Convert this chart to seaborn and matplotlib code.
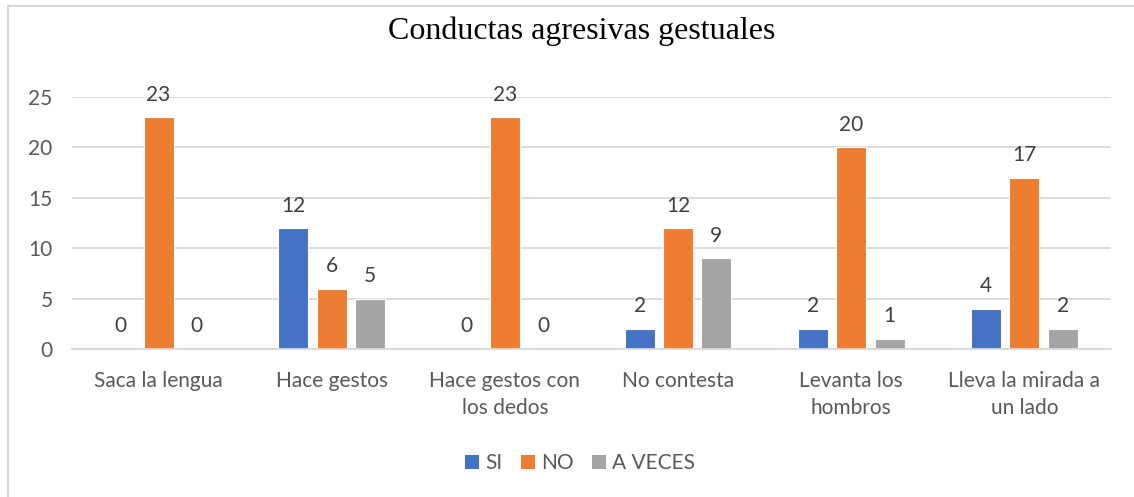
import pandas as pd
import numpy as np
import matplotlib.pyplot as plt
import seaborn as sns
from matplotlib.patches import Rectangle, Patch

# Data
categories = ["Saca la lengua", "Hace gestos", "Hace gestos con\nlos dedos",
              "No contesta", "Levanta los\nhombros", "Lleva la mirada a\nun lado"]
si = [0, 12, 0, 2, 2, 4]
no = [23, 6, 23, 12, 20, 17]
a_veces = [0, 5, 0, 9, 1, 2]
series_names = ["SI", "NO", "A VECES"]
colors = ["#4472C4", "#ED7D31", "#A5A5A5"]

df = pd.DataFrame({"Categoria": categories * 3,
                   "Respuesta": np.repeat(series_names, len(categories)),
                   "Valor": si + no + a_veces})

sns.set_style("white")
plt.rcParams['font.family'] = ['Lato', 'DejaVu Sans']
text_color = "#595959"
fs = 15

fig = plt.figure(figsize=(11.34, 4.97), dpi=100)
ax = fig.add_axes([72 / 1134, 148 / 497, 1039 / 1134, 252 / 497])

sns.barplot(data=df, x="Categoria", y="Valor", hue="Respuesta", palette=colors,
            hue_order=series_names, order=categories, width=0.664, gap=0.22,
            saturation=1, edgecolor="white", linewidth=0.8, ax=ax, legend=False)

for container in ax.containers:
    ax.bar_label(container, fmt="%d", padding=9, fontsize=fs, color="#404040")

ax.set_ylim(0, 25)
ax.set_xlim(-0.5, len(categories) - 0.5)
ax.set_yticks(range(0, 26, 5))
ax.yaxis.grid(True, color="#D9D9D9", linewidth=1.3)
ax.set_axisbelow(True)
for s in ["top", "right", "left"]:
    ax.spines[s].set_visible(False)
ax.spines["bottom"].set_color("#D9D9D9")
ax.spines["bottom"].set_linewidth(1.3)
ax.tick_params(axis="both", length=0, labelsize=fs, labelcolor=text_color)
ax.tick_params(axis="x", pad=16)
ax.tick_params(axis="y", pad=14)
for lbl in ax.get_xticklabels():
    lbl.set_linespacing(1.45)
ax.set_xlabel("")
ax.set_ylabel("")

fig.text(582 / 1134, 1 - 31 / 497, "Conductas agresivas gestuales",
         ha="center", va="center", fontsize=23, family="Liberation Serif", color="black")

handles = [Patch(facecolor=c, edgecolor="none") for c in colors]
fig.legend(handles, series_names, loc="center", bbox_to_anchor=(580 / 1134, 1 - 463 / 497),
           ncol=3, frameon=False, fontsize=fs, labelcolor=text_color,
           handlelength=0.67, handleheight=0.67, handletextpad=0.3, columnspacing=0.9)

# chart border
fig.patches.append(Rectangle((8 / 1134, -0.05), 1.2, 1 - 6 / 497 + 0.05, transform=fig.transFigure,
                             fill=False, edgecolor="#D9D9D9", linewidth=1.5))

fig.savefig("out.png", dpi=100)
